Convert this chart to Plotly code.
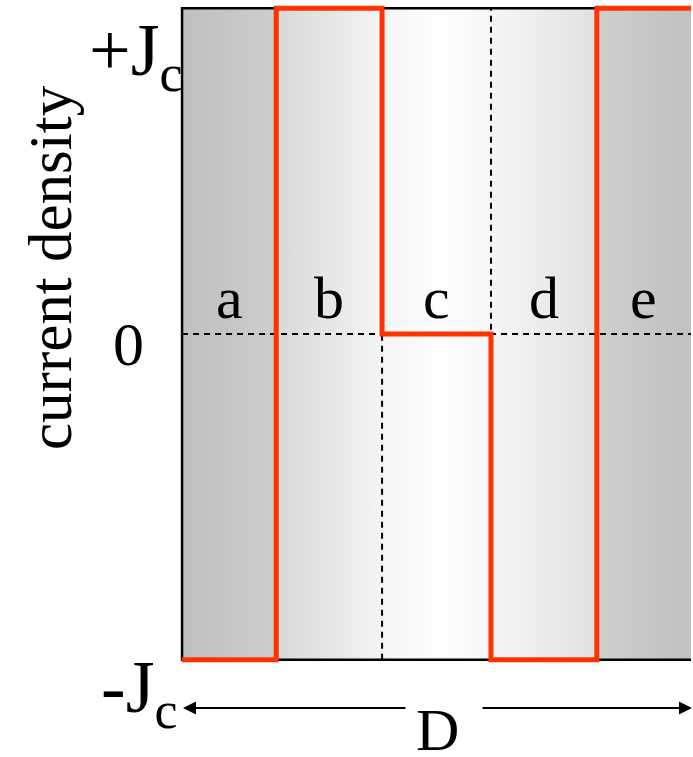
import plotly.graph_objects as go

# ---------------- data ----------------
region_labels = ["a", "b", "c", "d", "e"]
region_edges = [0.0, 0.185, 0.393, 0.607, 0.815, 1.0]   # position across the sample, fraction of D
current_density = [-1, 1, 0, -1, 1]                      # in units of Jc, one value per region
tick_values = [1, 0, -1]
tick_labels = ["+J<sub>c</sub>", "0", "-J<sub>c</sub>"]
y_title = "current density"
width_label = "D"

# ---------------- style ----------------
FONT = "Liberation Serif, Times New Roman, serif"
RED = "#ff3300"
region_gradients = [
    [[0, "#bfbfbf"], [1, "#cdcdcd"]],
    [[0, "#d8d8d8"], [1, "#f4f4f4"]],
    [[0, "#f4f4f4"], [0.5, "#fefefe"], [1, "#f7f7f7"]],
    [[0, "#f6f6f6"], [1, "#e1e1e1"]],
    [[0, "#cfcfcf"], [1, "#c0c0c0"]],
]

W, H = 693, 757
ML, MR, MT, MB = 179, 2, 4, 93
XR = [-0.006, 1.0]
YR = [-1.013, 1.013]

fig = go.Figure()

# background gradient bands for each region
for i in range(len(region_labels)):
    x0, x1 = region_edges[i], region_edges[i + 1]
    fig.add_trace(go.Scatter(
        x=[x0, x1, x1, x0, x0], y=[-1, -1, 1, 1, -1],
        mode="lines", line=dict(width=0), fill="toself",
        fillgradient=dict(type="horizontal", colorscale=region_gradients[i]),
        hoverinfo="skip", showlegend=False))

DASH = dict(color="black", width=2, dash="6px,5px")
# dashed guides: zero line and region boundaries
fig.add_trace(go.Scatter(x=[region_edges[0], region_edges[-1]], y=[0, 0], mode="lines",
                         line=DASH, hoverinfo="skip", showlegend=False))
for xb in region_edges[2:5]:
    fig.add_trace(go.Scatter(x=[xb, xb], y=[min(tick_values), max(tick_values)], mode="lines",
                             line=DASH, hoverinfo="skip", showlegend=False))

# frame (left, top, bottom)
lo, hi = min(tick_values), max(tick_values)
fig.add_trace(go.Scatter(x=[region_edges[-1], region_edges[0], region_edges[0], region_edges[-1]],
                         y=[hi, hi, lo, lo], mode="lines",
                         line=dict(color="black", width=2.5),
                         hoverinfo="skip", showlegend=False))

# current density profile
fig.add_trace(go.Scatter(x=region_edges, y=current_density + [current_density[-1]],
                         mode="lines", line=dict(color=RED, width=5, shape="hv"),
                         hoverinfo="skip", showlegend=False))

def px_to_paper_x(px):
    return (px - ML) / (W - ML - MR)

def px_to_paper_y(py):
    return (H - MB - py) / (H - MT - MB)

ann = []
# region labels
for i, lab in enumerate(region_labels):
    ann.append(dict(x=(region_edges[i] + region_edges[i + 1]) / 2, xref="x",
                    y=px_to_paper_y(298), yref="paper", text=lab, showarrow=False,
                    font=dict(family=FONT, size=60, color="black"),
                    xanchor="center", yanchor="middle"))
# tick labels
tick_pos = {1: (185, 55, "right", 74), 0: (128, 344, "center", 62), -1: (179, 692, "right", 74)}
for v, t in zip(tick_values, tick_labels):
    px, py, xa, fs = tick_pos[v]
    ann.append(dict(x=px_to_paper_x(px), xref="paper", y=px_to_paper_y(py), yref="paper",
                    text=t, showarrow=False, xanchor=xa, yanchor="middle",
                    font=dict(family=FONT, size=fs, color="black")))
# y title
ann.append(dict(x=px_to_paper_x(50), xref="paper", y=px_to_paper_y(268), yref="paper",
                text=y_title, textangle=-90, showarrow=False, xanchor="center", yanchor="middle",
                font=dict(family=FONT, size=61, color="black")))
# D label
ann.append(dict(x=px_to_paper_x(437), xref="paper", y=px_to_paper_y(730), yref="paper",
                text=width_label, showarrow=False, xanchor="center", yanchor="middle",
                font=dict(family=FONT, size=60, color="black")))
# double arrow split around D
ann.append(dict(x=px_to_paper_x(183), xref="paper", y=px_to_paper_y(708), yref="paper",
                ax=407 - 183, ay=0, text="", showarrow=True, arrowhead=2,
                arrowsize=1.3, arrowwidth=2, arrowcolor="black"))
ann.append(dict(x=px_to_paper_x(692), xref="paper", y=px_to_paper_y(708), yref="paper",
                ax=481 - 692, ay=0, text="", showarrow=True, arrowhead=2,
                arrowsize=1.3, arrowwidth=2, arrowcolor="black"))

fig.update_layout(
    width=W, height=H, autosize=False,
    margin=dict(l=ML, r=MR, t=MT, b=MB),
    paper_bgcolor="white", plot_bgcolor="white",
    showlegend=False, annotations=ann,
    xaxis=dict(range=XR, showgrid=False, zeroline=False, showticklabels=False,
               ticks="", showline=False, fixedrange=True),
    yaxis=dict(range=YR, showgrid=False, zeroline=False, showticklabels=False,
               ticks="", showline=False, fixedrange=True),
)

fig.write_html("out.html", config={"displayModeBar": False},
               post_script="document.body.style.margin='0';document.body.style.overflow='hidden';")
